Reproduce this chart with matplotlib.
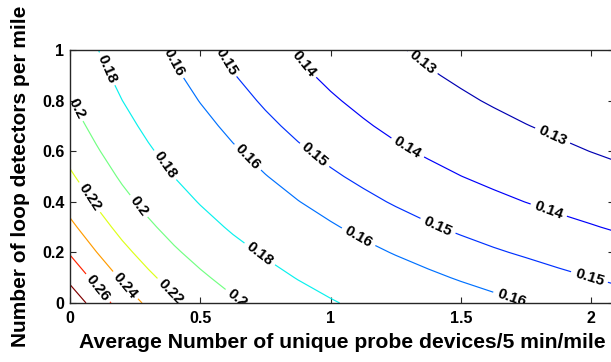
import numpy as np
import matplotlib
matplotlib.use("Agg")
import matplotlib.pyplot as plt
from matplotlib.colors import Normalize
from matplotlib.ticker import FormatStrFormatter

plt.rcParams['font.family'] = ['Liberation Sans', 'DejaVu Sans']
plt.rcParams['font.weight'] = 'bold'

# Average number of unique probe devices per 5 min per mile (grid columns)
probe_density = [0, 0.1, 0.2, 0.3, 0.4, 0.5, 0.625, 0.75, 0.875, 1.0,
                 1.125, 1.25, 1.375, 1.5, 1.625, 1.75, 1.875, 2.0, 2.125, 2.25]
# Number of loop detectors per mile (grid rows)
loop_density = [0, 0.1, 0.2, 0.3, 0.4, 0.5, 0.6, 0.7, 0.8, 0.9, 1.0]

# Estimation error on the (loop, probe) grid, one row per loop density
error_y00 = [0.2940, 0.2712, 0.2517, 0.2364, 0.2236, 0.2134, 0.2029, 0.1944, 0.1873, 0.1814,
             0.1764, 0.1722, 0.1685, 0.1653, 0.1626, 0.1601, 0.1577, 0.1556, 0.1535, 0.1516]
error_y01 = [0.2748, 0.2547, 0.2375, 0.2238, 0.2123, 0.2031, 0.1935, 0.1858, 0.1793, 0.1739,
             0.1693, 0.1654, 0.1620, 0.1591, 0.1565, 0.1542, 0.1520, 0.1500, 0.1481, 0.1464]
error_y02 = [0.2583, 0.2405, 0.2251, 0.2127, 0.2024, 0.1940, 0.1852, 0.1782, 0.1722, 0.1671,
             0.1629, 0.1593, 0.1562, 0.1534, 0.1510, 0.1489, 0.1468, 0.1450, 0.1432, 0.1415]
error_y03 = [0.2443, 0.2283, 0.2144, 0.2031, 0.1937, 0.1859, 0.1779, 0.1714, 0.1658, 0.1612,
             0.1572, 0.1539, 0.1509, 0.1484, 0.1461, 0.1441, 0.1422, 0.1405, 0.1388, 0.1372]
error_y04 = [0.2326, 0.2180, 0.2053, 0.1949, 0.1862, 0.1791, 0.1716, 0.1655, 0.1603, 0.1560,
             0.1523, 0.1491, 0.1464, 0.1440, 0.1418, 0.1399, 0.1381, 0.1365, 0.1349, 0.1334]
error_y05 = [0.2226, 0.2093, 0.1975, 0.1879, 0.1798, 0.1731, 0.1661, 0.1604, 0.1556, 0.1514,
             0.1480, 0.1450, 0.1424, 0.1401, 0.1381, 0.1363, 0.1346, 0.1330, 0.1315, 0.1301]
error_y06 = [0.2142, 0.2018, 0.1908, 0.1819, 0.1742, 0.1680, 0.1614, 0.1560, 0.1514, 0.1475,
             0.1442, 0.1413, 0.1389, 0.1367, 0.1348, 0.1331, 0.1314, 0.1299, 0.1285, 0.1272]
error_y07 = [0.2070, 0.1954, 0.1851, 0.1766, 0.1694, 0.1635, 0.1572, 0.1521, 0.1477, 0.1440,
             0.1409, 0.1381, 0.1358, 0.1337, 0.1319, 0.1302, 0.1287, 0.1272, 0.1259, 0.1246]
error_y08 = [0.2007, 0.1898, 0.1801, 0.1721, 0.1652, 0.1596, 0.1536, 0.1487, 0.1445, 0.1410,
             0.1380, 0.1353, 0.1331, 0.1311, 0.1293, 0.1277, 0.1263, 0.1249, 0.1236, 0.1223]
error_y09 = [0.1954, 0.1850, 0.1757, 0.1681, 0.1616, 0.1562, 0.1504, 0.1458, 0.1417, 0.1383,
             0.1354, 0.1329, 0.1307, 0.1288, 0.1271, 0.1255, 0.1241, 0.1228, 0.1215, 0.1203]
error_y10 = [0.1907, 0.1808, 0.1719, 0.1646, 0.1584, 0.1532, 0.1477, 0.1431, 0.1393, 0.1359,
             0.1331, 0.1307, 0.1286, 0.1267, 0.1251, 0.1236, 0.1222, 0.1209, 0.1197, 0.1185]

levels = [0.13, 0.14, 0.15, 0.16, 0.18, 0.2, 0.22, 0.24, 0.26, 0.28]

# Where each contour carries its inline value label
label_spots = [
    (0.134, 0.922), (0.357, 0.540), (0.717, 0.180),                 # 0.18
    (0.396, 0.949), (0.672, 0.567), (1.10, 0.249), (1.69, 0.008),   # 0.16
    (0.589, 0.949), (0.921, 0.565), (1.41, 0.30), (1.99, 0.091),    # 0.15
    (0.89, 0.94), (1.29, 0.605), (1.835, 0.36),                     # 0.14
    (1.355, 0.953), (1.85, 0.657),                                  # 0.13
    (0.010, 0.76), (0.257, 0.378), (0.635, 0.012),                  # 0.2
    (0.058, 0.407), (0.380, 0.040),                                 # 0.22
    (0.204, 0.063),                                                 # 0.24
    (0.096, 0.051),                                                 # 0.26
]

Z = np.array([error_y00, error_y01, error_y02, error_y03, error_y04, error_y05,
              error_y06, error_y07, error_y08, error_y09, error_y10])
X, Y = np.meshgrid(probe_density, loop_density)

fig = plt.figure(figsize=(6.11, 3.62), dpi=100)
ax = fig.add_axes([70 / 611, 59 / 362, 544 / 611, 253 / 362])

cs = ax.contour(X, Y, Z, levels=levels, cmap='jet',
                norm=Normalize(vmin=0.123, vmax=0.28), linewidths=0.85)
texts = ax.clabel(cs, manual=label_spots, inline=True, fmt='%g',
                  fontsize=11, colors='k', inline_spacing=3)
for t in texts:
    t.set_clip_on(True)

ax.set_xlim(0, 2.088)
ax.set_ylim(0, 1)
ax.set_xticks([0, 0.5, 1, 1.5, 2])
ax.set_yticks([0, 0.2, 0.4, 0.6, 0.8, 1])
ax.xaxis.set_major_formatter(FormatStrFormatter('%g'))
ax.yaxis.set_major_formatter(FormatStrFormatter('%g'))
ax.tick_params(direction='in', length=4, width=0.8, top=True, right=True,
               labelsize=11.5, colors='#262626', labelcolor='black')
ax.tick_params(axis='x', pad=6)
ax.tick_params(axis='y', pad=4)
for s in ax.spines.values():
    s.set_linewidth(1.0)
    s.set_color('#262626')

ax.set_xlabel('Average Number of unique probe devices/5 min/mile',
              fontsize=15.2, fontweight='bold', labelpad=5)
ax.set_ylabel('Number of loop detectors per mile',
              fontsize=15, fontweight='bold', labelpad=9)

fig.savefig('out.png', dpi=100)
